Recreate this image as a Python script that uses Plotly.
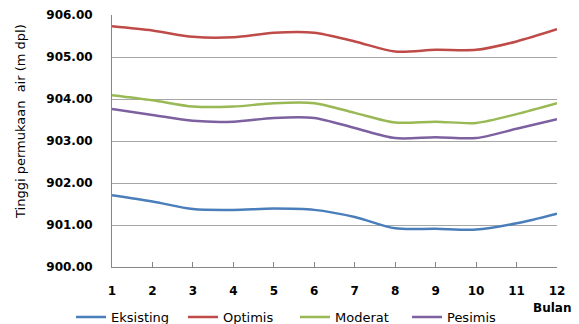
import plotly.graph_objects as go

bulan = [1, 2, 3, 4, 5, 6, 7, 8, 9, 10, 11, 12]
eksisting = [901.71, 901.56, 901.38, 901.36, 901.39, 901.36, 901.19, 900.92, 900.91, 900.89, 901.04, 901.27]
optimis = [905.73, 905.63, 905.48, 905.47, 905.58, 905.58, 905.37, 905.13, 905.17, 905.17, 905.37, 905.66]
moderat = [904.09, 903.97, 903.82, 903.82, 903.90, 903.90, 903.67, 903.44, 903.46, 903.43, 903.64, 903.90]
pesimis = [903.76, 903.62, 903.48, 903.46, 903.55, 903.55, 903.31, 903.07, 903.09, 903.07, 903.29, 903.52]

series = [
    ("Eksisting", eksisting, "#4A7EBB"),
    ("Optimis", optimis, "#BE4B48"),
    ("Moderat", moderat, "#98B954"),
    ("Pesimis", pesimis, "#7D60A0"),
]

fig = go.Figure()
for name, vals, color in series:
    fig.add_trace(go.Scatter(
        x=bulan, y=vals, name=name, mode="lines",
        line=dict(color=color, width=2.5, shape="spline", smoothing=0.8),
    ))

grid = "#A6A6A6"
fig.update_layout(
    width=579, height=324,
    margin=dict(l=112, r=22, t=15, b=57, autoexpand=False),
    paper_bgcolor="white", plot_bgcolor="white",
    font=dict(family="DejaVu Sans", size=12, color="black"),
    showlegend=True,
    legend=dict(orientation="h", x=(71 - 112) / 445, xanchor="left", y=-0.199, yanchor="middle",
                font=dict(size=13), itemwidth=30, tracegroupgap=0,
                entrywidth=67, entrywidthmode="pixels",
                bgcolor="rgba(0,0,0,0)"),
    xaxis=dict(range=[1, 12], tickmode="array", tickvals=bulan,
               ticktext=[str(b) for b in bulan],
               showgrid=False, zeroline=False,
               showline=True, linecolor="#868686", linewidth=1,
               ticks="inside", ticklen=5, tickcolor="#868686",
               tickfont=dict(family="DejaVu Sans", size=12, weight="bold"),
               ticklabelstandoff=13),
    yaxis=dict(range=[900, 906], dtick=1, tickformat=".2f",
               showgrid=True, gridcolor=grid, gridwidth=1, zeroline=False,
               showline=True, linecolor="#868686", linewidth=1,
               ticks="", tickfont=dict(family="DejaVu Sans", size=12, weight="bold"),
               ticklabelstandoff=16),
    annotations=[
        dict(text="<b>Bulan</b>", xref="paper", yref="paper",
             x=(552 - 112) / 445, y=-(308 - 267) / 252,
             xanchor="center", yanchor="middle", showarrow=False,
             font=dict(size=12)),
        dict(text="Tinggi permukaan  air (m dpl)", xref="paper", yref="paper",
             x=(20 - 112) / 445, y=1 - (122 - 15) / 252, textangle=-90,
             xanchor="center", yanchor="middle", showarrow=False,
             font=dict(size=13)),
    ],
)

fig.write_html("out.html")
